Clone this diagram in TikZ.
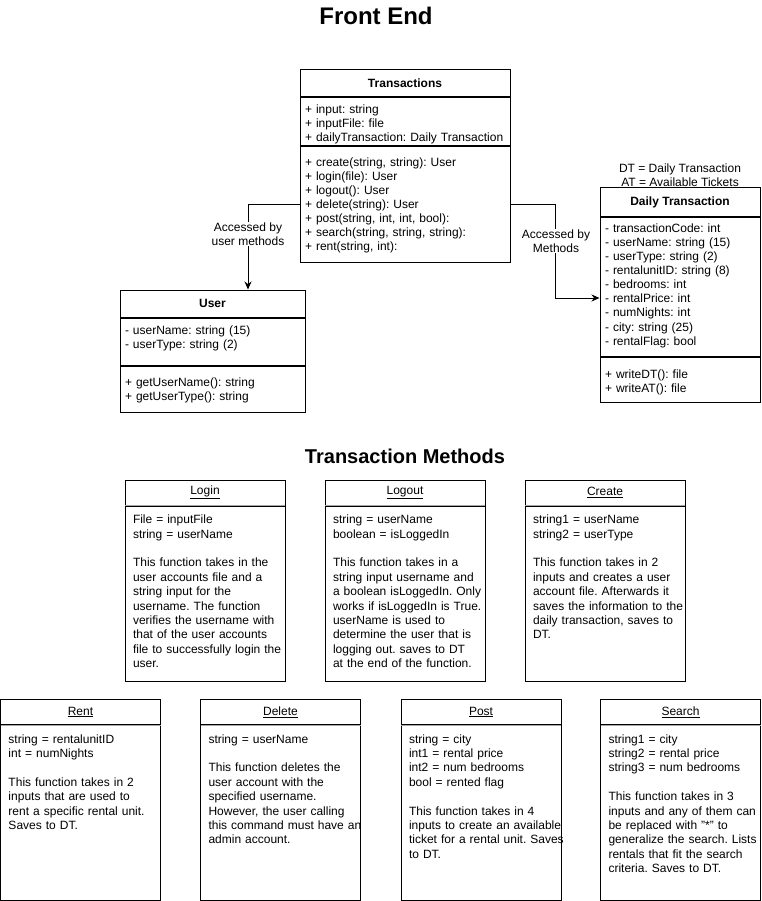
\documentclass[tikz,border=0pt]{standalone}
\usepackage{fontspec}
\setmainfont{Liberation Sans}
\usetikzlibrary{positioning,arrows.meta}
\frenchspacing
\hyphenpenalty=10000
\exhyphenpenalty=10000

\begin{document}
\begin{tikzpicture}[x=1pt, y=-1pt, line width=1pt,
    every node/.style={font=\fontsize{12}{14}\selectfont},
    cls_head/.style={draw, font=\fontsize{12}{14}\selectfont\bfseries, minimum height=27pt, inner sep=0pt},
    cls_part/.style={draw, align=left, inner xsep=5pt, inner ysep=0pt, text height=16pt},
    m_head/.style={draw, minimum width=160pt, minimum height=25pt, inner sep=0pt},
    m_body/.style={draw, align=left, text width=160pt, inner sep=0pt, text height=17.6pt, text depth=157.4pt,
        font=\fontsize{12}{14.4}\selectfont, execute at begin node=\leftskip 8pt\rightskip -6pt plus 1fil\relax},
    m_split/.style={draw=black!35, shorten >=0.5pt, shorten <=0.5pt},
    conn/.style={-{Stealth[length=8pt, width=7pt]}},
    conn_label/.style={fill=white, align=center, inner sep=1pt},
    title/.style={font=\fontsize{#1}{#1}\selectfont\bfseries}]

    \useasboundingbox (0,0) rectangle (761,901);

    \node[title=24] (frontEnd) at (376, 15.5) {Front End};
    \node[title=20] (methodsTitle) at (405, 456.5) {Transaction Methods};

    % classes
    \node[cls_head, minimum width=210pt] (transHead) at (405, 83.5) {Transactions};
    \node[cls_part, below=0pt of transHead, text width=200pt, text depth=32pt] (transAttr)
        {+ input: string\\+ inputFile: file\\+ dailyTransaction: Daily Transaction};
    \node[cls_part, below=0pt of transAttr, text width=200pt, text height=19.5pt, text depth=95.5pt] (transMeth)
        {+ create(string, string): User\\+ login(file): User\\+ logout(): User\\+ delete(string): User\\+ post(string, int, int, bool):\\+ search(string, string, string):\\+ rent(string, int):};

    \node[cls_head, minimum width=185pt] (userHead) at (212.5, 303.5) {User};
    \node[cls_part, below=0pt of userHead, text width=175pt, text depth=31pt] (userAttr)
        {- userName: string (15)\\- userType: string (2)};
    \node[cls_part, below=0pt of userAttr, text width=175pt, text height=20pt, text depth=26pt] (userMeth)
        {+ getUserName(): string\\+ getUserType(): string};

    \node[align=center] (legend) at (680, 175.5) {DT = Daily Transaction\\AT = Available Tickets};
    \node[cls_head, minimum width=160pt, minimum height=29pt] (dailyHead) at (680, 202.5) {Daily Transaction};
    \node[cls_part, below=0pt of dailyHead, text width=150pt, text height=15pt, text depth=123pt] (dailyAttr)
        {- transactionCode: int\\- userName: string (15)\\- userType: string (2)\\- rentalunitID: string (8)\\- bedrooms: int\\- rentalPrice: int\\- numNights: int\\- city: string (25)\\- rentalFlag: bool};
    \node[cls_part, below=0pt of dailyAttr, text width=150pt, text height=21pt, text depth=24pt] (dailyMeth)
        {+ writeDT(): file\\+ writeAT(): file};

    \draw[conn] (transMeth.west) -| ([xshift=35.5pt]userHead.north);
    \draw[conn] (transMeth.east) -- ++(45,0) |- ([yshift=-11pt]dailyAttr.west);
    \node[conn_label] (accUser) at (248, 234) {Accessed by\\user methods};
    \node[conn_label] (accDaily) at (556, 241) {Accessed by\\Methods};

    % method boxes
    \node[m_head] (loginHead) at (205, 492.5) {\underline{Login}};
    \node[m_body, below=0pt of loginHead] (loginBody)
        {File = inputFile\\string = userName\\[14.4pt]This function takes in the\\user accounts file and a\\string input for the\\username. The function\\verifies the username with\\that of the user accounts\\file to successfully login the\\user.};
    \node[m_head] (logoutHead) at (405, 492.5) {\underline{Logout}};
    \node[m_body, below=0pt of logoutHead] (logoutBody)
        {string = userName\\boolean = isLoggedIn\\[14.4pt]This function takes in a\\string input username and\\a boolean isLoggedIn. Only\\works if isLoggedIn is True.\\userName is used to\\determine the user that is\\logging out. saves to DT\\at the end of the function.};
    \node[m_head] (createHead) at (605, 492.5) {\underline{Create}};
    \node[m_body, below=0pt of createHead] (createBody)
        {string1 = userName\\string2 = userType\\[14.4pt]This function takes in 2\\inputs and creates a user\\account file. Afterwards it\\saves the information to the\\daily transaction, saves to\\DT.};

    \node[m_head] (rentHead) at (80.5, 712) {\underline{Rent}};
    \node[m_body, below=0pt of rentHead] (rentBody)
        {string = rentalunitID\\int = numNights\\[14.4pt]This function takes in 2\\inputs that are used to\\rent a specific rental unit.\\Saves to DT.};
    \node[m_head] (deleteHead) at (280.5, 712) {\underline{Delete}};
    \node[m_body, below=0pt of deleteHead] (deleteBody)
        {string = userName\\[14.4pt]This function deletes the\\user account with the\\specified username.\\However, the user calling\\this command must have an\\admin account.};
    \node[m_head] (postHead) at (481, 712) {\underline{Post}};
    \node[m_body, below=0pt of postHead] (postBody)
        {string = city\\int1 = rental price\\int2 = num bedrooms\\bool = rented flag\\[14.4pt]This function takes in 4\\inputs to create an available\\ticket for a rental unit. Saves\\to DT.};
    \node[m_head] (searchHead) at (680.5, 712) {\underline{Search}};
    \node[m_body, below=0pt of searchHead] (searchBody)
        {string1 = city\\string2 = rental price\\string3 = num bedrooms\\[14.4pt]This function takes in 3\\inputs and any of them can\\be replaced with "*" to\\generalize the search. Lists\\rentals that fit the search\\criteria. Saves to DT.};

    \foreach \m in {login,logout,create,rent,delete,post,search}
        \draw[m_split] (\m Head.south west) -- (\m Head.south east);

\end{tikzpicture}
\end{document}
